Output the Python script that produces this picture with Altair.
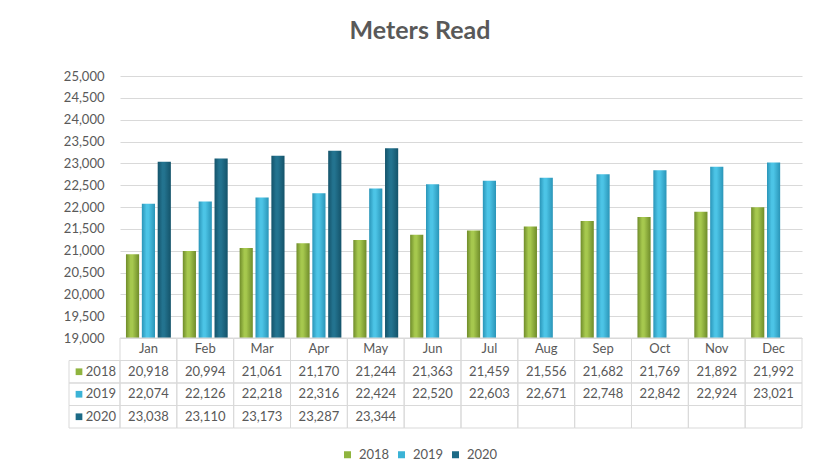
import altair as alt
import pandas as pd

months = ["Jan", "Feb", "Mar", "Apr", "May", "Jun", "Jul", "Aug", "Sep", "Oct", "Nov", "Dec"]
years = ["2018", "2019", "2020"]
v2018 = [20918, 20994, 21061, 21170, 21244, 21363, 21459, 21556, 21682, 21769, 21892, 21992]
v2019 = [22074, 22126, 22218, 22316, 22424, 22520, 22603, 22671, 22748, 22842, 22924, 23021]
v2020 = [23038, 23110, 23173, 23287, 23344]
y_ticks = [19000, 19500, 20000, 20500, 21000, 21500, 22000, 22500, 23000, 23500, 24000, 24500, 25000]
colors = ["#8fb43e", "#3bb3d6", "#1c6a86"]
shades = [("#6f8c2a", "#a6c84e"), ("#2a95b8", "#4cc4e6"), ("#14536a", "#23738f")]

rows = ["hdr"] + years
TXT = "#595959"
GRID = "#d9d9d9"
FONT = "Lato"

records = []
for yr, vals in zip(years, [v2018, v2019, v2020]):
    for m, v in zip(months, vals):
        records.append({"month": m, "year": yr, "row": yr, "value": v})
df = pd.DataFrame(records)

cells = pd.DataFrame([{"month": m, "row": r} for r in rows for m in months])
hdr = pd.DataFrame({"month": months, "row": ["hdr"] * len(months)})
labels = pd.DataFrame({"row": years, "year": years})

H_BARS = 262
H_ALL = 352
W = 682

bx = alt.X("month:N", sort=months, scale=alt.Scale(domain=months, paddingInner=0.21, paddingOuter=0.105), axis=None)
bxo = alt.XOffset("year:N", sort=years, scale=alt.Scale(domain=years, paddingInner=0.17, paddingOuter=0))
by = alt.Y("value:Q",
           scale=alt.Scale(domain=[19000, 25000], range=[H_BARS, 0], zero=False, nice=False),
           axis=alt.Axis(values=y_ticks, labelExpr="format(datum.value, ',')", title=None, domain=False, ticks=False,
                         labelPadding=16, grid=True, gridColor=GRID, labelColor=TXT,
                         labelFont=FONT, labelFontSize=13))

bar_layers = []
for yr, (dark, light) in zip(years, shades):
    grad = alt.Gradient(gradient="linear", x1=0, x2=1, y1=0, y2=0,
                        stops=[alt.GradientStop(color=dark, offset=0),
                               alt.GradientStop(color=light, offset=0.35),
                               alt.GradientStop(color=light, offset=0.5),
                               alt.GradientStop(color=dark, offset=1)])
    bar_layers.append(
        alt.Chart(df).transform_filter(alt.datum.year == yr).mark_bar(fill=grad).encode(
            x=bx, xOffset=bxo, y=by, y2=alt.datum(19000))
    )
bars = alt.layer(*bar_layers)

ty = alt.Y("row:N", sort=rows, scale=alt.Scale(domain=rows, range=[H_BARS, H_ALL], paddingInner=0, paddingOuter=0), axis=None)
tx = alt.X("month:N", sort=months, scale=alt.Scale(domain=months, paddingInner=0, paddingOuter=0), axis=None)

cell_rects = alt.Chart(cells).mark_rect(fillOpacity=0, stroke=GRID, strokeWidth=1).encode(x=tx, y=ty)
hdr_text = alt.Chart(hdr).mark_text(font=FONT, fontSize=13, color=TXT, baseline="middle").encode(
    x=tx, y=ty, text="month:N")
val_text = alt.Chart(df).mark_text(font=FONT, fontSize=13, color=TXT, baseline="middle").encode(
    x=tx, y=ty, text=alt.Text("value:Q", format=","))
lab_rects = alt.Chart(labels).mark_rect(fillOpacity=0, stroke=GRID, strokeWidth=1).encode(
    x=alt.value(-51), x2=alt.value(0), y=ty)
lab_sq = alt.Chart(labels).mark_point(shape="square", filled=True, size=45, opacity=1).encode(
    x=alt.value(-41), y=ty,
    color=alt.Color("year:N", sort=years, scale=alt.Scale(domain=years, range=colors),
                    legend=alt.Legend(orient="none", legendX=221, legendY=372, direction="horizontal",
                                      title=None, symbolType="square", symbolSize=49,
                                      labelFont=FONT, labelFontSize=13, labelColor=TXT,
                                      columnPadding=5, labelOffset=5)))
lab_text = alt.Chart(labels).mark_text(font=FONT, fontSize=13, color=TXT, align="right", baseline="middle").encode(
    x=alt.value(-4), y=ty, text="row:N")

table = alt.layer(cell_rects, hdr_text, val_text, lab_rects, lab_sq, lab_text)

chart = alt.layer(bars, table).resolve_scale(x="independent", y="independent").properties(
    width=W,
    height=H_ALL,
    title=alt.TitleParams("Meters Read", font=FONT, fontSize=25, fontWeight="bold", color=TXT,
                          anchor="middle", frame="group", dx=-41, offset=26),
    padding={"left": 55, "top": 11, "right": 10, "bottom": 10},
    background="white",
).configure_view(strokeWidth=0)

chart.save("out.html", embed_options={"renderer": "svg", "actions": False})
